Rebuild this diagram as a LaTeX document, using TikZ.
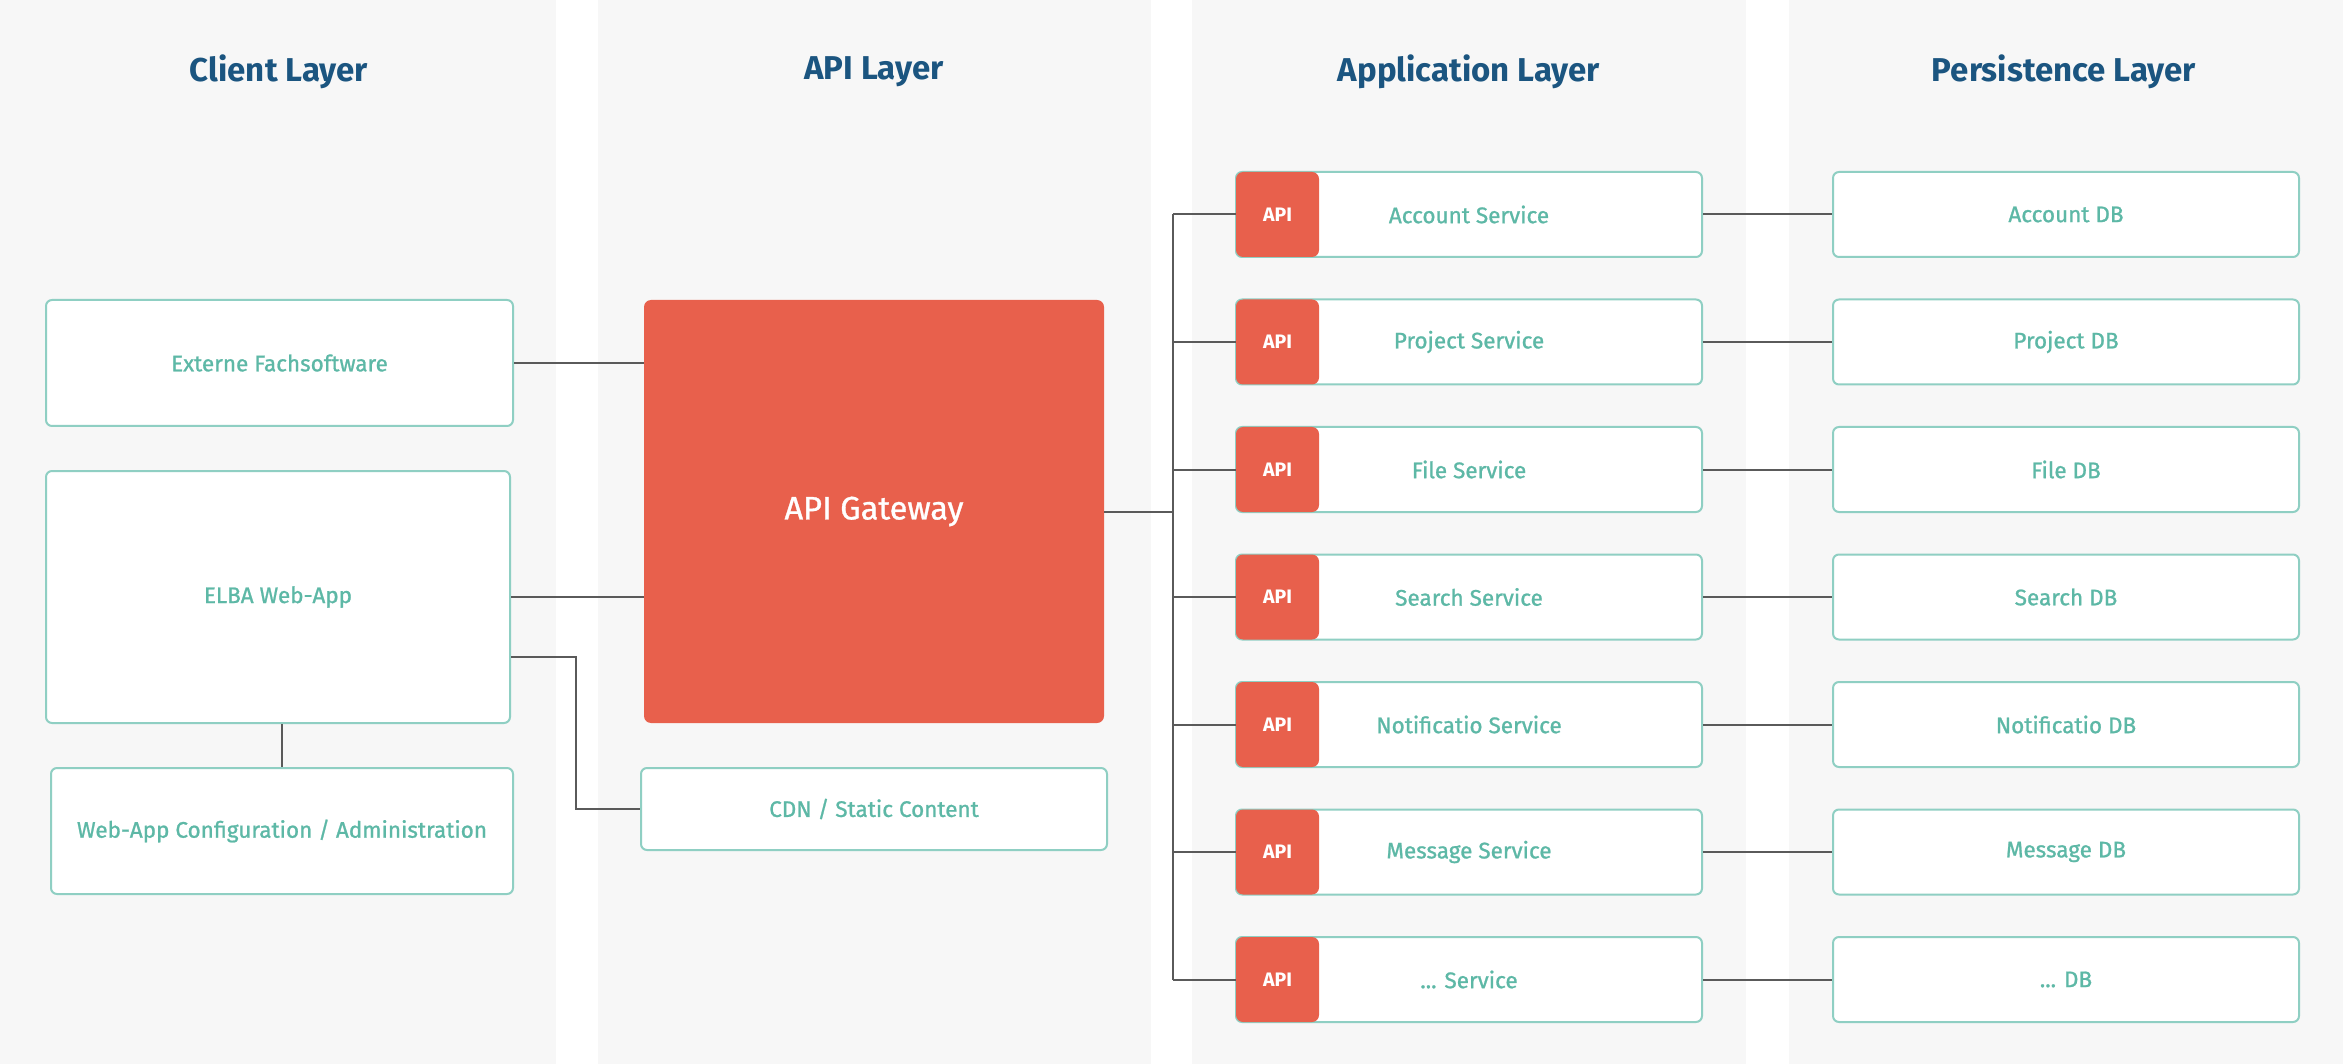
\documentclass[tikz,border=0pt]{standalone}
\usepackage{fontspec}
\setmainfont{Fira Sans}
\newfontfamily\boxfont[FakeBold=1]{Fira Sans}
\usetikzlibrary{positioning,calc}
\definecolor{panel}{HTML}{F7F7F7}
\definecolor{teal}{HTML}{5DB8A6}
\definecolor{tealborder}{HTML}{8FCFC3}
\definecolor{titleblue}{HTML}{1B5580}
\definecolor{apired}{HTML}{E8604C}
\definecolor{wire}{HTML}{5A5A5A}
\begin{document}
\begin{tikzpicture}[x=1pt,y=-1pt,
  panelbox/.style={fill=panel,draw=none},
  layertitle/.style={font=\fontsize{33}{36}\selectfont\bfseries,text=titleblue},
  whitebox/.style={draw=tealborder,line width=2pt,fill=white,rounded corners=6pt,
    text=teal,font=\boxfont\fontsize{22.5}{26}\selectfont,inner sep=0pt},
  redbox/.style={fill=apired,draw=none,rounded corners=7pt,text=white,inner sep=0pt},
  badge/.style={redbox,minimum width=83pt,minimum height=85pt,font=\fontsize{19.5}{22}\selectfont\bfseries},
  svcbox/.style={whitebox,minimum width=466pt,minimum height=85pt},
  wireline/.style={draw=wire,line width=2pt}
]
\useasboundingbox (0,0) rectangle (2343,1064);
\fill[white] (0,0) rectangle (2343,1064);
% panels
\fill[panelbox] (0,0) rectangle (556,1064);
\fill[panelbox] (598,0) rectangle (1151,1064);
\fill[panelbox] (1192,0) rectangle (1746,1064);
\fill[panelbox] (1789,0) rectangle (2343,1064);
% titles
\node[layertitle] (t1) at (279,72) {Client Layer};
\node[layertitle] (t2) at (874,72) {API Layer};
\node[layertitle] (t3) at (1469,72) {Application Layer};
\node[layertitle] (t4) at (2064,72) {Persistence Layer};
% client layer
\node[whitebox,minimum width=467pt,minimum height=126pt] (ext) at (279.5,363) {Externe Fachsoftware};
\node[whitebox,minimum width=464pt,minimum height=252pt] (elba) at (278,597) {ELBA Web-App};
\node[whitebox,minimum width=462pt,minimum height=126pt] (cfg) at (282,831) {Web-App Configuration / Administration};
% api layer
\node[redbox,minimum width=460pt,minimum height=423pt,font=\boxfont\fontsize{32.5}{36}\selectfont] (gw) at (874,511.5) {API Gateway};
\node[whitebox,minimum width=466pt,minimum height=82pt] (cdn) at (874,809) {CDN / Static Content};
% application + persistence
\foreach \i/\s/\d in {0/Account Service/Account DB,1/Project Service/Project DB,2/File Service/File DB,3/Search Service/Search DB,4/Notificatio Service/Notificatio DB,5/Message Service/Message DB}{
  \node[svcbox] (s\i) at (1469,214.5+127.5*\i) {\s};
  \node[badge] (b\i) at (1277.5,214.5+127.5*\i) {API};
  \node[svcbox] (d\i) at (2066,214.5+127.5*\i) {\d};
}
\node[svcbox] (s6) at (1469,979.5) {... Service};
\node[badge] (b6) at (1277.5,979.5) {API};
\node[svcbox] (d6) at (2066,979.5) {... DB};
% connectors
\coordinate (bus) at (1173,511.5);
\draw[wireline] (ext.east) -- (ext.east -| gw.west);
\draw[wireline] (elba.east) -- (elba.east -| gw.west);
\draw[wireline] ([yshift=-60pt]elba.east) -- ++(65,0) |- (cdn.west);
\draw[wireline] (elba.south -| cfg.north) -- (cfg.north);
\draw[wireline] (gw.east) -- (bus);
\draw[wireline] (bus |- b0.west) -- (bus |- b6.west);
\foreach \i in {0,1,2,3,4,5,6}{
  \draw[wireline] (bus |- b\i.west) -- (b\i.west);
  \draw[wireline] (s\i.east) -- (d\i.west);
}
\end{tikzpicture}
\end{document}
